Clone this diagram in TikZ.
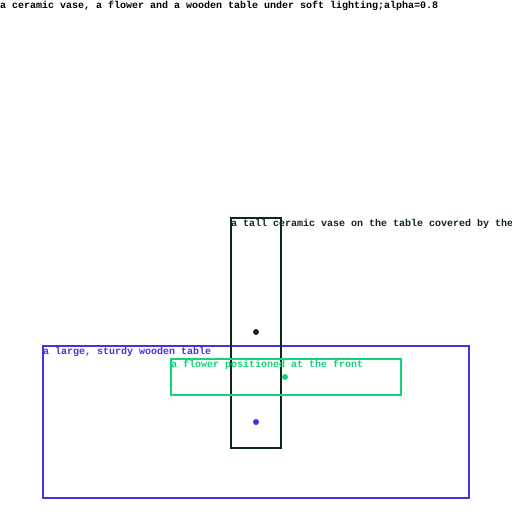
\documentclass[tikz,border=0pt]{standalone}
\usepackage{fontspec}
\setmonofont{Liberation Mono}
\usepackage{tikz}
\usetikzlibrary{positioning}
\definecolor{vasecol}{RGB}{14,40,20}
\definecolor{tablecol}{RGB}{76,46,224}
\definecolor{flowercol}{RGB}{20,210,122}
\tikzset{
    region/.style={rectangle, draw, line width=1.6pt, inner sep=0pt, outer sep=0pt, anchor=north west},
    caption/.style={font=\ttfamily\bfseries\fontsize{10}{10}\selectfont, inner sep=0pt, anchor=north west},
    centre/.style={circle, fill, inner sep=0pt, minimum size=6pt},
}

\begin{document}
\begin{tikzpicture}[x=1pt, y=-1pt]
    \useasboundingbox (0,0) rectangle (512,512);
    \node[caption] (title) at (0,1) {a ceramic vase, a flower and a wooden table under soft lighting;alpha=0.8};

    % table
    \node[region, draw=tablecol, minimum width=426pt, minimum height=152pt] (table) at (43,346) {};
    \node[caption, text=tablecol] (tablelbl) at ([yshift=-1pt]table.north west) {a large, sturdy wooden table};
    \node[centre, fill=tablecol] (tabledot) at (256,422) {};

    % vase
    \node[region, draw=vasecol, minimum width=50pt, minimum height=230pt] (vase) at (231,218) {};
    \node[caption, text=vasecol] (vaselbl) at ([yshift=-1pt]vase.north west) {a tall ceramic vase on the table covered by the};
    \node[centre, fill=vasecol] (vasedot) at (256,332) {};

    % flower
    \node[region, draw=flowercol, minimum width=230pt, minimum height=36pt] (flower) at (171,359) {};
    \node[caption, text=flowercol] (flowerlbl) at ([yshift=-1pt]flower.north west) {a flower positioned at the front};
    \node[centre, fill=flowercol] (flowerdot) at (285,377) {};
\end{tikzpicture}
\end{document}
